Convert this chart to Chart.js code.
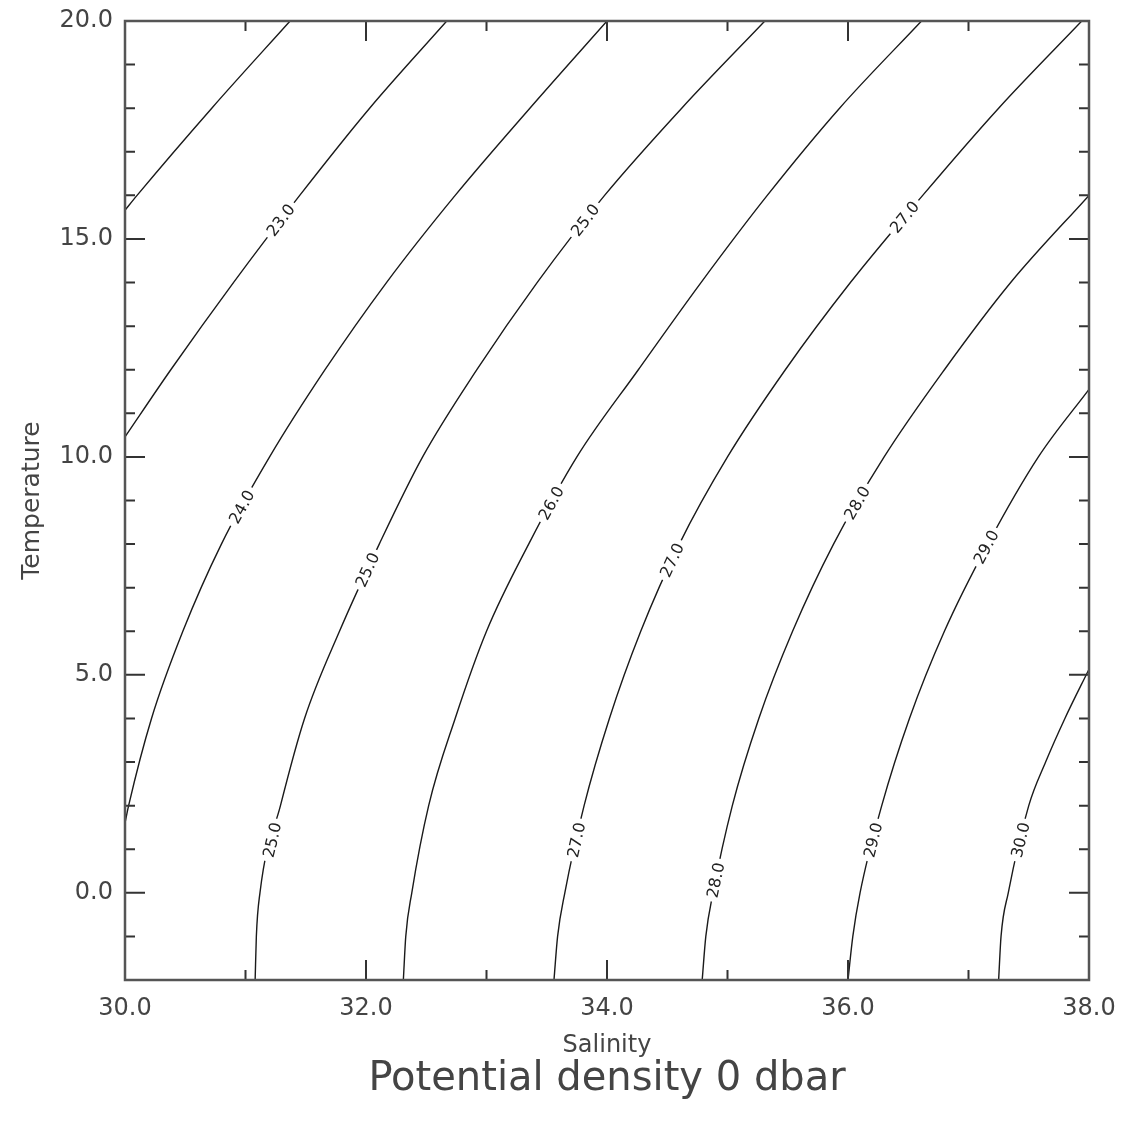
<!DOCTYPE html>
<html>
<head>
<meta charset="utf-8">
<script src="https://cdn.jsdelivr.net/npm/chart.js@4.4.1/dist/chart.umd.min.js"></script>
<style>
  html, body { margin: 0; padding: 0; background: #fff; }
</style>
</head>
<body>
<canvas id="tsChart" width="1122" height="1125"></canvas>
<script>
// contour lines of potential density, [salinity, temperature] pairs
const c22 = [[30, 15.66], [30.1, 16], [30.72, 18], [31.37, 20]];
const c23 = [[30, 10.46], [30.38, 12], [30.9, 14], [31.45, 16], [32.03, 18], [32.67, 20]];
const c24 = [[30, 1.6], [30.03, 2], [30.22, 4], [30.48, 6], [30.8, 8], [31.2, 10], [31.66, 12], [32.17, 14],
  [32.74, 16], [33.36, 18], [34.0, 20]];
const c25 = [[31.08, -2], [31.09, -1], [31.12, 0], [31.29, 2], [31.49, 4], [31.78, 6], [32.11, 8], [32.47, 10],
  [32.92, 12], [33.42, 14], [33.98, 16], [34.62, 18], [35.31, 20]];
const c26 = [[32.31, -2], [32.33, -1], [32.38, 0], [32.52, 2], [32.74, 4], [33.0, 6], [33.35, 8], [33.75, 10],
  [34.26, 12], [34.78, 14], [35.33, 16], [35.93, 18], [36.61, 20]];
const c27 = [[33.56, -2], [33.59, -1], [33.65, 0], [33.81, 2], [34.02, 4], [34.28, 6], [34.6, 8], [35.0, 10],
  [35.48, 12], [36.02, 14], [36.62, 16], [37.25, 18], [37.94, 20]];
const c28 = [[34.79, -2], [34.82, -1], [34.88, 0], [35.04, 2], [35.26, 4], [35.54, 6], [35.88, 8], [36.3, 10],
  [36.8, 12], [37.35, 14], [38.0, 16]];
const c29 = [[36.0, -2], [36.04, -1], [36.1, 0], [36.28, 2], [36.51, 4], [36.8, 6], [37.16, 8], [37.58, 10],
  [38.0, 11.55]];
const c30 = [[37.25, -2], [37.27, -1], [37.33, 0], [37.5, 2], [37.64, 3], [37.8, 4], [38.0, 5.13]];

const levels = [22, 23, 24, 25, 26, 27, 28, 29, 30];
const contours = [c22, c23, c24, c25, c26, c27, c28, c29, c30];

// contour labels: which level, at which temperature
const labelLevel = [23, 24, 25, 25, 25, 26, 27, 27, 27, 28, 28, 29, 29, 30];
const labelTemp = [15.43, 8.85, 15.43, 7.41, 1.21, 8.94, 15.5, 7.63, 1.21, 8.94, 0.29, 7.93, 1.21, 1.21];

// axis ticks
const xLabels = [30, 32, 34, 36, 38];
const xMinor = [31, 33, 35, 37];
const yLabels = [0, 5, 10, 15, 20];
const yMinor = [-1, 1, 2, 3, 4, 6, 7, 8, 9, 11, 12, 13, 14, 16, 17, 18, 19];

const FONT = "'DejaVu Sans', sans-serif";
const TEXT = '#444';

// salinity on a contour at a given temperature
function salAt(pts, t) {
  for (let i = 0; i < pts.length - 1; i++) {
    const a = pts[i], b = pts[i + 1];
    if (t >= a[1] && t <= b[1]) {
      const f = (t - a[1]) / (b[1] - a[1] || 1);
      return a[0] + f * (b[0] - a[0]);
    }
  }
  return pts[pts.length - 1][0];
}

const contourLabels = {
  id: 'contourLabels',
  afterDatasetsDraw(chart) {
    const { ctx, scales: { x, y } } = chart;
    ctx.save();
    ctx.font = "16px " + FONT;
    ctx.textAlign = 'center';
    ctx.textBaseline = 'middle';
    labelLevel.forEach((lev, i) => {
      const pts = contours[levels.indexOf(lev)];
      const t = labelTemp[i];
      const s = salAt(pts, t);
      const t1 = Math.max(t - 0.6, pts[0][1]);
      const t2 = Math.min(t + 0.6, pts[pts.length - 1][1]);
      const x1 = x.getPixelForValue(salAt(pts, t1)), y1 = y.getPixelForValue(t1);
      const x2 = x.getPixelForValue(salAt(pts, t2)), y2 = y.getPixelForValue(t2);
      const ang = Math.atan2(y2 - y1, x2 - x1);
      const txt = lev.toFixed(1);
      const w = ctx.measureText(txt).width;
      ctx.save();
      ctx.translate(x.getPixelForValue(s), y.getPixelForValue(t));
      ctx.rotate(ang);
      ctx.fillStyle = '#fff';
      ctx.fillRect(-w / 2 - 4, -7, w + 8, 14);
      ctx.fillStyle = '#222';
      ctx.fillText(txt, 0, 1);
      ctx.restore();
    });
    ctx.restore();
  }
};

const frameTicks = {
  id: 'frameTicks',
  afterDraw(chart) {
    const { ctx, chartArea: a, scales: { x, y } } = chart;
    ctx.save();
    ctx.strokeStyle = '#333';
    ctx.lineWidth = 2;
    const tick = (px, len, vertical) => {
      ctx.beginPath();
      if (vertical) {
        ctx.moveTo(px, a.bottom); ctx.lineTo(px, a.bottom - len);
        ctx.moveTo(px, a.top); ctx.lineTo(px, a.top + len);
      } else {
        ctx.moveTo(a.left, px); ctx.lineTo(a.left + len, px);
        ctx.moveTo(a.right, px); ctx.lineTo(a.right - len, px);
      }
      ctx.stroke();
    };
    xLabels.forEach(v => tick(x.getPixelForValue(v), 20, true));
    xMinor.forEach(v => tick(x.getPixelForValue(v), 10, true));
    yLabels.forEach(v => tick(y.getPixelForValue(v), 20, false));
    yMinor.forEach(v => tick(y.getPixelForValue(v), 10, false));
    ctx.strokeStyle = '#555';
    ctx.lineWidth = 2.5;
    ctx.strokeRect(a.left, a.top, a.right - a.left, a.bottom - a.top);
    ctx.restore();
  }
};

const noPad = s => { s.paddingTop = 0; s.paddingBottom = 0; s.paddingLeft = 0; s.paddingRight = 0; };

new Chart(document.getElementById('tsChart'), {
  type: 'scatter',
  data: {
    datasets: contours.map((pts, i) => ({
      label: levels[i].toFixed(1),
      data: pts.map(p => ({ x: p[0], y: p[1] })),
      showLine: true,
      borderColor: '#1a1a1a',
      borderWidth: 1.4,
      pointRadius: 0,
      cubicInterpolationMode: 'monotone',
      fill: false
    }))
  },
  options: {
    responsive: false,
    animation: false,
    layout: { padding: { left: 0, right: 33, top: 21, bottom: 0 } },
    plugins: {
      legend: { display: false },
      tooltip: { enabled: false },
      title: {
        display: true,
        text: 'Potential density 0 dbar',
        position: 'bottom',
        fullSize: false,
        color: TEXT,
        font: { family: FONT, size: 40, weight: 'normal', lineHeight: 1 },
        padding: { top: 2, bottom: 25 }
      }
    },
    scales: {
      x: {
        type: 'linear', min: 30, max: 38,
        grid: { display: false },
        border: { display: false },
        afterBuildTicks: s => { s.ticks = xLabels.map(v => ({ value: v })); },
        afterFit: s => { s.height = 78; noPad(s); },
        ticks: {
          color: TEXT, padding: 6, maxRotation: 0, autoSkip: false,
          font: { family: FONT, size: 24 },
          callback: v => Number(v).toFixed(1)
        },
        title: {
          display: true, text: 'Salinity', color: TEXT,
          font: { family: FONT, size: 24 },
          padding: { top: 0, bottom: -2 }
        }
      },
      y: {
        type: 'linear', min: -2, max: 20,
        grid: { display: false },
        border: { display: false },
        afterBuildTicks: s => { s.ticks = yLabels.map(v => ({ value: v })); },
        afterFit: s => { s.width = 125; noPad(s); },
        ticks: {
          color: TEXT, padding: 4, autoSkip: false,
          font: { family: FONT, size: 24 },
          callback: v => Number(v).toFixed(1)
        },
        title: {
          display: true, text: 'Temperature', color: TEXT,
          font: { family: FONT, size: 25 },
          padding: { top: 17, bottom: 0 }
        }
      }
    }
  },
  plugins: [contourLabels, frameTicks]
});
</script>
</body>
</html>
